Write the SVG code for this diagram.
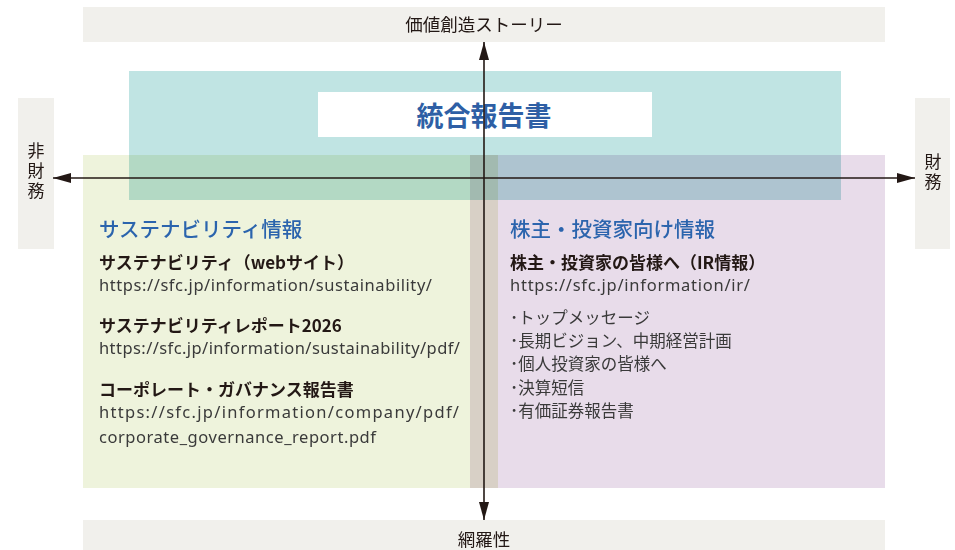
<svg xmlns="http://www.w3.org/2000/svg" width="955" height="550" viewBox="0 0 955 550">
<style>
text{font-family:"Noto Sans CJK JP","Noto Sans",sans-serif;fill:#231815}
.band{fill:#f1f0ec}
.lbl{font-size:17.5px;text-anchor:middle}
.vlbl{font-size:17px;text-anchor:middle;writing-mode:tb;letter-spacing:3px}
.title{font-size:20.5px;fill:#2b64ad;font-weight:500}
.head{font-size:17px;font-weight:700}
.url{font-family:"Noto Sans","Noto Sans CJK JP",sans-serif;font-size:16.5px;fill:#3a3a3a}
.bul{font-size:16.5px;fill:#3a3a3a}
.axis{stroke:#231815;stroke-width:1.6;fill:none}
</style>
<defs>
<marker id="ah" viewBox="0 0 18 10" refX="18" refY="5" markerWidth="18" markerHeight="10" markerUnits="userSpaceOnUse" orient="auto">
<path d="M0,0L18,5L0,10z" fill="#231815"/>
</marker>
</defs>
<g id="bands">
<rect class="band" x="83" y="7" width="802" height="35"/>
<rect class="band" x="83" y="520" width="802" height="30"/>
<rect class="band" x="18" y="98" width="36" height="151"/>
<rect class="band" x="915" y="98" width="35" height="151"/>
<text class="lbl" x="484" y="31">価値創造ストーリー</text>
<text class="lbl" x="484" y="546">網羅性</text>
<text class="vlbl" x="36" y="172">非財務</text>
<text class="vlbl" x="933" y="173">財務</text>
</g>
<g id="sustainability">
<rect x="83" y="155" width="387" height="333" fill="#eef3dc"/>
<text class="title" x="99" y="237">サステナビリティ情報</text>
<text class="head" x="99" y="269">サステナビリティ（webサイト）</text>
<text class="url" x="99" y="291" textLength="333">https://sfc.jp/information/sustainability/</text>
<text class="head" x="99" y="332">サステナビリティレポート2026</text>
<text class="url" x="99" y="354" textLength="361">https://sfc.jp/information/sustainability/pdf/</text>
<text class="head" x="99" y="396">コーポレート・ガバナンス報告書</text>
<text class="url" x="99" y="418" textLength="360">https://sfc.jp/information/company/pdf/</text>
<text class="url" x="99" y="443" textLength="277">corporate_governance_report.pdf</text>
</g>
<g id="investors">
<rect x="498" y="155" width="387" height="333" fill="#e8dcea"/>
<rect x="470" y="155" width="28" height="333" fill="#d8d0c6"/>
<text class="title" x="510" y="237">株主・投資家向け情報</text>
<text class="head" x="510" y="269">株主・投資家の皆様へ（IR情報）</text>
<text class="url" x="510" y="291" textLength="240">https://sfc.jp/information/ir/</text>
<text class="bul" x="510" y="324">･トップメッセージ</text>
<text class="bul" x="510" y="347">･長期ビジョン、中期経営計画</text>
<text class="bul" x="510" y="370">･個人投資家の皆様へ</text>
<text class="bul" x="510" y="394">･決算短信</text>
<text class="bul" x="510" y="417">･有価証券報告書</text>
</g>
<g id="integrated">
<rect x="129" y="71" width="712" height="129" fill="#c0e4e3" style="mix-blend-mode:multiply"/>
<rect x="318" y="92" width="334" height="45" fill="#ffffff"/>
<text x="484" y="126" text-anchor="middle" font-size="27" font-weight="700" style="fill:#2e5fa5">統合報告書</text>
</g>
<g id="connectors">
<line class="axis" x1="484" y1="177" x2="484" y2="42" marker-end="url(#ah)"/>
<line class="axis" x1="484" y1="177" x2="484" y2="520" marker-end="url(#ah)"/>
<line class="axis" x1="484" y1="178" x2="53" y2="178" marker-end="url(#ah)"/>
<line class="axis" x1="484" y1="178" x2="915" y2="178" marker-end="url(#ah)"/>
</g>
</svg>
